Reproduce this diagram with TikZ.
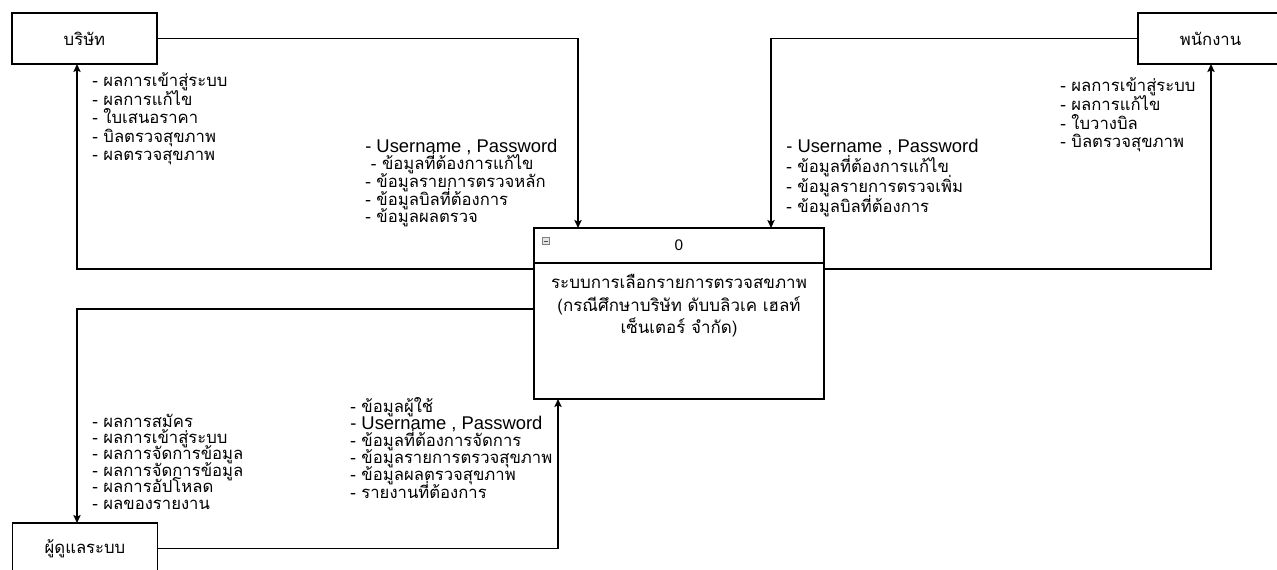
\documentclass[tikz,border=0pt]{standalone}
\usepackage{fontspec}
\setmainfont{Liberation Sans}
\newfontfamily\thai[Script=Thai]{Loma}
\newfontfamily\latn{Liberation Sans}
\usetikzlibrary{arrows.meta}
\newcommand{\uline}{{\latn\fontsize{13.8}{14}\selectfont - Username , Password}}
\newcommand{\thfont}[2]{\thai\fontsize{#1}{#2}\selectfont\lineskiplimit=-20pt\lineskip=0pt}
\begin{document}
\begin{tikzpicture}[x=0.75pt,y=-0.75pt,
  entity/.style={draw, line width=1pt, minimum width=108.75pt, minimum height=38.25pt, inner sep=0pt, font=\thfont{12.5}{15}},
  proc/.style={draw, line width=1pt, minimum width=217.5pt, minimum height=128.25pt, inner sep=0pt},
  flow/.style={draw, line width=1pt, -{Stealth[length=6pt,width=5.5pt,inset=1.2pt]}},
  lbl/.style={anchor=base west, align=left, inner sep=0pt}]
\useasboundingbox (0,0) rectangle (1277,570);
\fill[white] (0,0) rectangle (1277,570);

% external entities
\node[entity] (comp) at (84.5,38.5) {บริษัท};
\node[entity] (emp) at (1210.5,38.5) {พนักงาน};
\node[entity] (admin) at (85,548.5) {ผู้ดูแลระบบ};

% process
\node[proc] (sys) at (679,313.5) {};
\coordinate (dl) at (534,263);
\coordinate (dr) at (824,263);
\draw[line width=1pt] (dl) -- (dr);
\node[font=\latn\fontsize{11.5}{12}\selectfont] (num) at (679,245) {0};
\node[draw=gray, fill=gray!20, minimum size=5.25pt, inner sep=0pt, line width=0.5pt] (icon) at (546,241) {};
\draw[black!70, line width=0.7pt] ([xshift=1.2pt]icon.west) -- ([xshift=-1.2pt]icon.east);
\node[align=center, inner sep=0pt, font=\thfont{12.7}{16.8}] (title) at (679,306)
  {ระบบการเลือกรายการตรวจสขภาพ\\(กรณีศึกษาบริษัท ดับบลิวเค เฮลท์\\เซ็นเตอร์ จำกัด)};

% connectors
\coordinate (a1) at (578,228);
\draw[flow] (comp.east) -| (a1);
\coordinate (s1) at (534,269);
\coordinate (cb) at (77,64);
\draw[flow] (s1) -| (cb);
\coordinate (a2) at (771,228);
\draw[flow] (emp.west) -| (a2);
\coordinate (s2) at (824,269);
\coordinate (eb) at (1211,64);
\draw[flow] (s2) -| (eb);
\coordinate (s3) at (534,309);
\coordinate (adt) at (77,523);
\draw[flow] (s3) -| (adt);
\coordinate (sb) at (558,399);
\draw[flow] (admin.east) -| (sb);

% labels (anchored at the baseline of the last line)
\node[lbl, font=\thfont{12.5}{13.9}] (la) at (92,161)
  {- ผลการเข้าสู่ระบบ\\- ผลการแก้ไข\\- ใบเสนอราคา\\- บิลตรวจสุขภาพ\\- ผลตรวจสุขภาพ};
\node[lbl, font=\thfont{12.5}{13.3}] (lb) at (365,223)
  {\uline\\\ - ข้อมูลที่ต้องการแก้ไข\\- ข้อมูลรายการตรวจหลัก\\- ข้อมูลบิลที่ต้องการ\\- ข้อมูลผลตรวจ};
\node[lbl, font=\thfont{12.5}{15}] (lc) at (786,213)
  {\uline\\- ข้อมูลที่ต้องการแก้ไข\\- ข้อมูลรายการตรวจเพิ่ม\\- ข้อมูลบิลที่ต้องการ};
\node[lbl, font=\thfont{12.5}{14}] (ld) at (1060,148)
  {- ผลการเข้าสู่ระบบ\\- ผลการแก้ไข\\- ใบวางบิล\\- บิลตรวจสุขภาพ};
\node[lbl, font=\thfont{12.5}{12.3}] (le) at (92,509)
  {- ผลการสมัคร\\- ผลการเข้าสู่ระบบ\\- ผลการจัดการข้อมูล\\- ผลการจัดการข้อมูล\\- ผลการอัปโหลด\\- ผลของรายงาน};
\node[lbl, font=\thfont{12.5}{12.9}] (lf) at (350,498)
  {- ข้อมูลผู้ใช้\\\uline\\- ข้อมูลที่ต้องการจัดการ\\- ข้อมูลรายการตรวจสุขภาพ\\- ข้อมูลผลตรวจสุขภาพ\\- รายงานที่ต้องการ};
\end{tikzpicture}
\end{document}
